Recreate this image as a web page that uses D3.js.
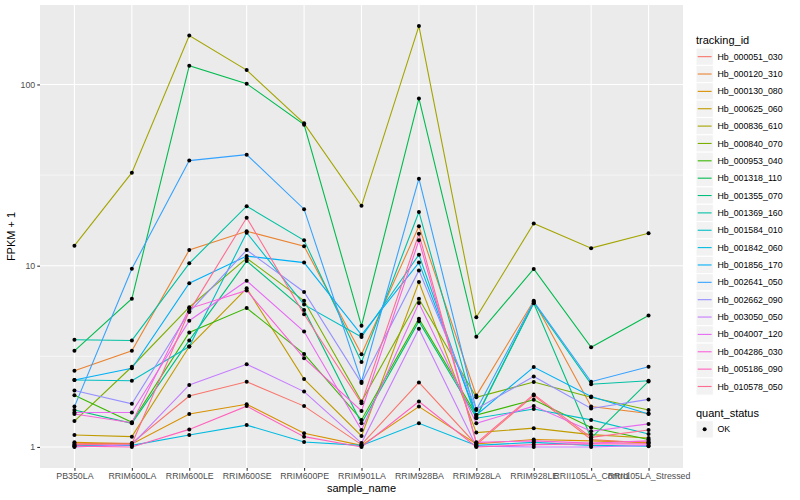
<!DOCTYPE html>
<html>
<head>
<meta charset="utf-8">
<script src="https://cdn.jsdelivr.net/npm/d3@7"></script>
<style>
  body { margin: 0; background: #fff; }
  text { font-family: "Liberation Sans", Arial, Helvetica, sans-serif; }
</style>
</head>
<body>
<div id="chart"></div>
<script>
var svgWidth = 800;
var svgHeight = 500;

// panel box (ggplot theme_gray look)
var panel = { left: 40, right: 683, top: 5, bottom: 468 };

var categories = ["PB350LA", "RRIM600LA", "RRIM600LE", "RRIM600SE", "RRIM600PE", "RRIM901LA",
  "RRIM928BA", "RRIM928LA", "RRIM928LE", "RRII105LA_Control", "RRII105LA_Stressed"];

var trackingIds = ["Hb_000051_030", "Hb_000120_310", "Hb_000130_080", "Hb_000625_060", "Hb_000836_610",
  "Hb_000840_070", "Hb_000953_040", "Hb_001318_110", "Hb_001355_070", "Hb_001369_160",
  "Hb_001584_010", "Hb_001842_060", "Hb_001856_170", "Hb_002641_050", "Hb_002662_090",
  "Hb_003050_050", "Hb_004007_120", "Hb_004286_030", "Hb_005186_090", "Hb_010578_050"];

// FPKM + 1 per sample
var Hb_000051_030 = [1.04, 1.05, 1.91, 2.29, 1.68, 1.03, 2.27, 1.03, 1.92, 1.1, 1.05];
var Hb_000120_310 = [2.63, 3.39, 12.2, 15.5, 12.8, 3.25, 16.5, 1.92, 6.4, 1.67, 1.53];
var Hb_000130_080 = [1.06, 1.04, 1.52, 1.72, 1.19, 1.02, 1.67, 1.04, 1.1, 1.08, 1.06];
var Hb_000625_060 = [1.165, 1.14, 3.58, 7.5, 2.37, 1.15, 8.13, 1.2, 1.27, 1.17, 1.12];
var Hb_000836_610 = [12.9, 32.6, 186, 120, 61, 21.4, 210, 5.2, 17.1, 12.5, 15.1];
var Hb_000840_070 = [1.39, 2.77, 5.9, 11.0, 6.4, 1.78, 6.57, 1.88, 2.28, 1.88, 1.6];
var Hb_000953_040 = [1.93, 1.37, 4.28, 5.84, 3.26, 1.41, 5.1, 1.5, 1.82, 1.28, 1.1];
var Hb_001318_110 = [3.39, 6.57, 127, 101, 60, 4.66, 83.7, 4.06, 9.6, 3.55, 5.31];
var Hb_001355_070 = [1.60, 1.35, 3.87, 10.6, 5.7, 1.35, 4.93, 1.45, 6.2, 1.12, 2.3];
var Hb_001369_160 = [3.90, 3.87, 10.3, 21.3, 13.8, 2.94, 19.8, 1.47, 6.25, 2.22, 2.32];
var Hb_001584_010 = [2.34, 2.32, 3.58, 15.2, 6.1, 4.04, 11.5, 1.44, 1.62, 1.41, 1.18];
var Hb_001842_060 = [1.02, 1.02, 1.165, 1.32, 1.065, 1.02, 1.35, 1.02, 1.06, 1.02, 1.01];
var Hb_001856_170 = [2.34, 2.72, 8.0, 11.3, 10.4, 4.16, 10.4, 1.5, 2.76, 1.9, 1.52];
var Hb_002641_050 = [1.67, 9.62, 38, 41, 20.5, 2.29, 30.2, 1.6, 6.35, 2.29, 2.77];
var Hb_002662_090 = [2.05, 1.73, 5.55, 12.2, 7.16, 2.25, 9.42, 1.62, 2.45, 1.63, 1.83];
var Hb_003050_050 = [1.0, 1.03, 2.2, 2.86, 2.02, 1.05, 4.49, 1.01, 1.0, 1.0, 1.02];
var Hb_004007_120 = [1.55, 1.55, 4.97, 8.26, 4.33, 1.24, 6.22, 1.35, 1.68, 1.22, 1.34];
var Hb_004286_030 = [1.52, 1.36, 5.8, 7.3, 3.09, 1.58, 13.8, 1.06, 1.08, 1.05, 1.08];
var Hb_005186_090 = [1.01, 1.0, 1.25, 1.68, 1.14, 1.0, 1.78, 1.0, 1.03, 1.04, 1.04];
var Hb_010578_050 = [1.03, 1.04, 5.6, 18.4, 5.4, 1.74, 15.0, 1.05, 1.95, 1.13, 1.24];

var seriesValues = [Hb_000051_030, Hb_000120_310, Hb_000130_080, Hb_000625_060, Hb_000836_610,
  Hb_000840_070, Hb_000953_040, Hb_001318_110, Hb_001355_070, Hb_001369_160,
  Hb_001584_010, Hb_001842_060, Hb_001856_170, Hb_002641_050, Hb_002662_090,
  Hb_003050_050, Hb_004007_120, Hb_004286_030, Hb_005186_090, Hb_010578_050];

var yBreaks = [1, 10, 100];
var yBreakLabels = ["1", "10", "100"];
var statusLevels = ["OK"];

// ggplot default hue palette for 20 levels
var palette = ["#F8766D", "#EA8331", "#D89000", "#C09B00", "#A3A500", "#7CAE00", "#39B600", "#00BB4E",
  "#00BF7D", "#00C1A3", "#00BFC4", "#00BAE0", "#00B0F6", "#35A2FF", "#9590FF", "#C77CFF",
  "#E76BF3", "#FA62DB", "#FF62BC", "#FF6C91"];

var rows = trackingIds.map(function(id, i) {
  return { id: id, values: seriesValues[i].map(function(v, j) { return { sample: categories[j], fpkm: v }; }) };
});
var allPoints = [];
rows.forEach(function(r) { r.values.forEach(function(p) { allPoints.push(p); }); });

var svg = d3.select("#chart").append("svg")
  .attr("width", svgWidth)
  .attr("height", svgHeight);

var scX = d3.scalePoint()
  .domain(categories)
  .range([panel.left, panel.right])
  .padding(0.6);

// 5% expansion in log space like ggplot
var ext = d3.extent(allPoints, function(d) { return Math.log10(d.fpkm); });
var pad = (ext[1] - ext[0]) * 0.05;
var scY = d3.scaleLog()
  .domain([Math.pow(10, ext[0] - pad), Math.pow(10, ext[1] + pad)])
  .range([panel.bottom, panel.top]);

var color = d3.scaleOrdinal().domain(trackingIds).range(palette);

// panel background
svg.append("rect")
  .attr("x", panel.left).attr("y", panel.top)
  .attr("width", panel.right - panel.left).attr("height", panel.bottom - panel.top)
  .attr("fill", "#EBEBEB");

// minor grid (midpoints in log space)
var minor = [];
for (var k = -1; k < 3; k++) {
  var m = Math.pow(10, k + 0.5);
  if (m > scY.domain()[0] && m < scY.domain()[1]) minor.push(m);
}
svg.append("g").selectAll("line").data(minor).enter().append("line")
  .attr("x1", panel.left).attr("x2", panel.right)
  .attr("y1", d => scY(d)).attr("y2", d => scY(d))
  .attr("stroke", "#fff").attr("stroke-width", 0.55);

svg.append("g").selectAll("line").data(yBreaks).enter().append("line")
  .attr("x1", panel.left).attr("x2", panel.right)
  .attr("y1", d => scY(d)).attr("y2", d => scY(d))
  .attr("stroke", "#fff").attr("stroke-width", 1.1);

svg.append("g").selectAll("line").data(categories).enter().append("line")
  .attr("x1", d => scX(d)).attr("x2", d => scX(d))
  .attr("y1", panel.top).attr("y2", panel.bottom)
  .attr("stroke", "#fff").attr("stroke-width", 1.1);

// lines
var line = d3.line()
  .x(d => scX(d.sample))
  .y(d => scY(d.fpkm));

svg.append("g").selectAll("path").data(rows).enter().append("path")
  .attr("d", d => line(d.values))
  .attr("fill", "none")
  .attr("stroke", d => color(d.id))
  .attr("stroke-width", 1.1);

// points
svg.append("g").selectAll("circle").data(allPoints).enter().append("circle")
  .attr("cx", d => scX(d.sample))
  .attr("cy", d => scY(d.fpkm))
  .attr("r", 2)
  .attr("fill", "#000");

// axes
var xAxis = d3.axisBottom(scX).tickSize(2.75).tickPadding(2);
var gx = svg.append("g")
  .attr("transform", `translate(0,${panel.bottom})`)
  .call(xAxis);
var yAxis = d3.axisLeft(scY).tickValues(yBreaks)
  .tickFormat((d, i) => yBreakLabels[i]).tickSize(2.75).tickPadding(2);
var gy = svg.append("g")
  .attr("transform", `translate(${panel.left},0)`)
  .call(yAxis);
[gx, gy].forEach(function(g) {
  g.select(".domain").remove();
  g.selectAll(".tick line").attr("stroke", "#333333").attr("stroke-width", 1.1);
  g.selectAll(".tick text").attr("fill", "#4D4D4D").attr("font-size", "8.8px")
    .attr("font-family", "Liberation Sans, Arial, sans-serif");
});

svg.append("text")
  .attr("x", (panel.left + panel.right) / 2).attr("y", 492)
  .attr("text-anchor", "middle").attr("font-size", "11px")
  .text("sample_name");

svg.append("text")
  .attr("transform", `translate(15,${(panel.top + panel.bottom) / 2}) rotate(-90)`)
  .attr("text-anchor", "middle").attr("font-size", "11px")
  .text("FPKM + 1");

// legend: tracking_id
var legend = svg.append("g").attr("transform", "translate(696,0)");
legend.append("text")
  .attr("x", 0).attr("y", 44)
  .attr("font-size", "11px")
  .text("tracking_id");

var keyH = 17.36;
var keys = legend.selectAll("g.key").data(trackingIds).enter().append("g")
  .attr("class", "key")
  .attr("transform", (d, i) => `translate(0,${48 + i * keyH})`);
keys.append("rect")
  .attr("width", 17.3).attr("height", 17.3)
  .attr("fill", "#F2F2F2").attr("stroke", "#fff").attr("stroke-width", 1);
keys.append("line")
  .attr("x1", 1.7).attr("x2", 15.6)
  .attr("y1", 8.65).attr("y2", 8.65)
  .attr("stroke", d => color(d)).attr("stroke-width", 1.1);
keys.append("text")
  .attr("x", 21.5).attr("y", 8.65).attr("dy", "0.35em")
  .attr("font-size", "8.8px")
  .text(d => d);

// legend: quant_status
var legend2 = svg.append("g").attr("transform", "translate(696,0)");
legend2.append("text")
  .attr("x", 0).attr("y", 416.5)
  .attr("font-size", "11px")
  .text("quant_status");
var sk = legend2.selectAll("g.skey").data(statusLevels).enter().append("g")
  .attr("class", "skey")
  .attr("transform", (d, i) => `translate(0,${420.7 + i * keyH})`);
sk.append("rect")
  .attr("width", 17.3).attr("height", 17.3)
  .attr("fill", "#F2F2F2").attr("stroke", "#fff").attr("stroke-width", 1);
sk.append("circle")
  .attr("cx", 8.65).attr("cy", 8.65).attr("r", 2)
  .attr("fill", "#000");
sk.append("text")
  .attr("x", 21.5).attr("y", 8.65).attr("dy", "0.35em")
  .attr("font-size", "8.8px")
  .text(d => d);
</script>
</body>
</html>
